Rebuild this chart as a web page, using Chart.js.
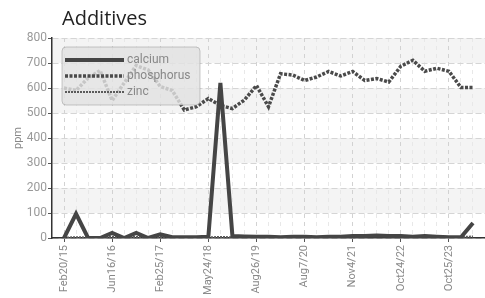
<!DOCTYPE html>
<html><head><meta charset="utf-8">
<script src="https://cdn.jsdelivr.net/npm/chart.js@4"></script>
<style>html,body{margin:0;padding:0;background:#fff}#wrap{position:relative;width:485px;height:298px}</style>
</head><body><div id="wrap"><canvas id="c" width="485" height="298"></canvas></div>
<script>
const chartTitle = 'Additives';
const yTitle = 'ppm';
const tickLabels = ['Feb20/15','Jun16/16','Feb25/17','May24/18','Aug26/19','Aug7/20','Nov4/21','Oct24/22','Oct25/23'];
const seriesNames = ['calcium','phosphorus','zinc'];
const calcium = [0,97,0,0,20,0,20,0,15,3,3,3,5,620,8,6,5,5,3,5,5,3,5,5,8,8,10,8,8,5,8,5,3,3,60];
const phosphorus = [600,590,640,670,550,620,690,672,606,590,512,525,558,530,518,552,610,525,657,652,630,644,666,648,666,630,638,624,687,711,667,679,667,602,602];
const zinc = [2,3,2,3,5,3,4,3,4,3,3,3,3,4,3,3,4,5,4,5,4,4,5,6,6,8,10,8,6,5,8,6,4,4,6];
const yTicks = [0,100,200,300,400,500,600,700,800];

const toXY = arr => arr.map((v, i) => ({x: i, y: v}));
Chart.defaults.font.family = 'Roboto, sans-serif';

const bands = {
  id: 'bands',
  beforeDraw(chart) {
    const {ctx, chartArea: a, scales: {y}} = chart;
    ctx.save();
    ctx.fillStyle = '#fff';
    ctx.fillRect(0, 0, chart.width, chart.height);
    ctx.fillStyle = '#f4f4f4';
    for (let k = 1; k < yTicks.length; k += 2) {
      const t = y.getPixelForValue(yTicks[k] + 100), b = y.getPixelForValue(yTicks[k]);
      ctx.fillRect(a.left, t, a.right - a.left, b - t);
    }
    ctx.restore();
  },
  afterLayout(chart) {
    if (chart.titleBlock) chart.titleBlock.left = chart.chartArea.left + 10;
  }
};

const innerLegend = {
  id: 'innerLegend',
  afterDatasetsDraw(chart) {
    const {ctx, chartArea: a} = chart;
    const x0 = a.left + 10, y0 = a.top + 9, w = 138, h = 58;
    ctx.save();
    ctx.beginPath();
    ctx.roundRect(x0, y0, w, h, 4);
    ctx.fillStyle = 'rgba(226,226,226,0.82)';
    ctx.fill();
    ctx.strokeStyle = 'rgba(140,140,140,0.45)';
    ctx.lineWidth = 1;
    ctx.stroke();
    chart.data.datasets.forEach((ds, i) => {
      const yy = y0 + 13 + i * 16;
      ctx.beginPath();
      ctx.setLineDash(ds.borderDash || []);
      ctx.strokeStyle = ds.borderColor;
      ctx.lineWidth = ds.borderWidth;
      ctx.moveTo(x0 + 3, yy);
      ctx.lineTo(x0 + 62, yy);
      ctx.stroke();
      ctx.setLineDash([]);
      ctx.fillStyle = '#888';
      ctx.font = '12px Roboto, sans-serif';
      ctx.textBaseline = 'middle';
      ctx.textAlign = 'left';
      ctx.fillText(ds.label, x0 + 65, yy);
    });
    ctx.restore();
  }
};

new Chart(document.getElementById('c'), {
  type: 'line',
  data: {
    datasets: [
      {label: seriesNames[0], data: toXY(calcium), borderColor: '#454545', borderWidth: 4, pointRadius: 0, tension: 0, fill: false},
      {label: seriesNames[1], data: toXY(phosphorus), borderColor: '#4a4a4a', borderWidth: 3.5, borderDash: [3, 1.5], pointRadius: 0, tension: 0, fill: false},
      {label: seriesNames[2], data: toXY(zinc), borderColor: '#5a5a5a', borderWidth: 2, borderDash: [2, 1], pointRadius: 0, tension: 0, fill: false}
    ]
  },
  options: {
    responsive: false,
    animation: false,
    layout: {padding: 0},
    plugins: {
      legend: {display: false},
      tooltip: {enabled: false},
      title: {display: true, text: chartTitle, align: 'start', color: '#222', font: {family: 'Open Sans', size: 20, weight: 'normal'}, padding: {top: 7, bottom: 7}}
    },
    scales: {
      x: {
        type: 'linear', min: -1, max: 35,
        afterFit(s) { s.height = 60; s.paddingLeft = 0; s.paddingRight = 0; },
        afterBuildTicks(s) { const t = []; for (let i = -1; i <= 35; i++) t.push({value: i}); s.ticks = t; },
        ticks: {
          autoSkip: false, minRotation: 90, maxRotation: 90, color: '#888', font: {size: 11}, padding: 3,
          callback: v => (v >= 0 && v % 4 === 0 && v / 4 < tickLabels.length) ? tickLabels[v / 4] : ''
        },
        grid: {
          color: c => { const v = c.tick && c.tick.value; if (v === -1 || v === 35) return 'rgba(0,0,0,0)'; return (v % 4 === 0 && v <= 32) ? '#d2d2d2' : '#e8e8e8'; },
          tickColor: c => { const v = c.tick && c.tick.value; return (v >= 0 && v % 4 === 0 && v <= 32) ? '#555' : 'rgba(0,0,0,0)'; },
          tickLength: 4, lineWidth: 1
        },
        border: {display: true, color: '#333', width: 1.5, dash: [4, 4]}
      },
      y: {
        min: 0, max: 800,
        afterFit(s) { s.width = 52; },
        afterBuildTicks(s) { s.ticks = yTicks.map(v => ({value: v})); },
        ticks: {color: '#999', font: {size: 12}, padding: 1},
        title: {display: true, text: yTitle, color: '#888', font: {size: 11}, padding: {top: 12, bottom: 0}},
        grid: {color: '#d5d5d5', tickColor: '#555', tickLength: 4, lineWidth: 1},
        border: {display: true, color: '#333', width: 1.5, dash: [6, 3]}
      }
    }
  },
  plugins: [bands, innerLegend]
});
</script></body></html>
